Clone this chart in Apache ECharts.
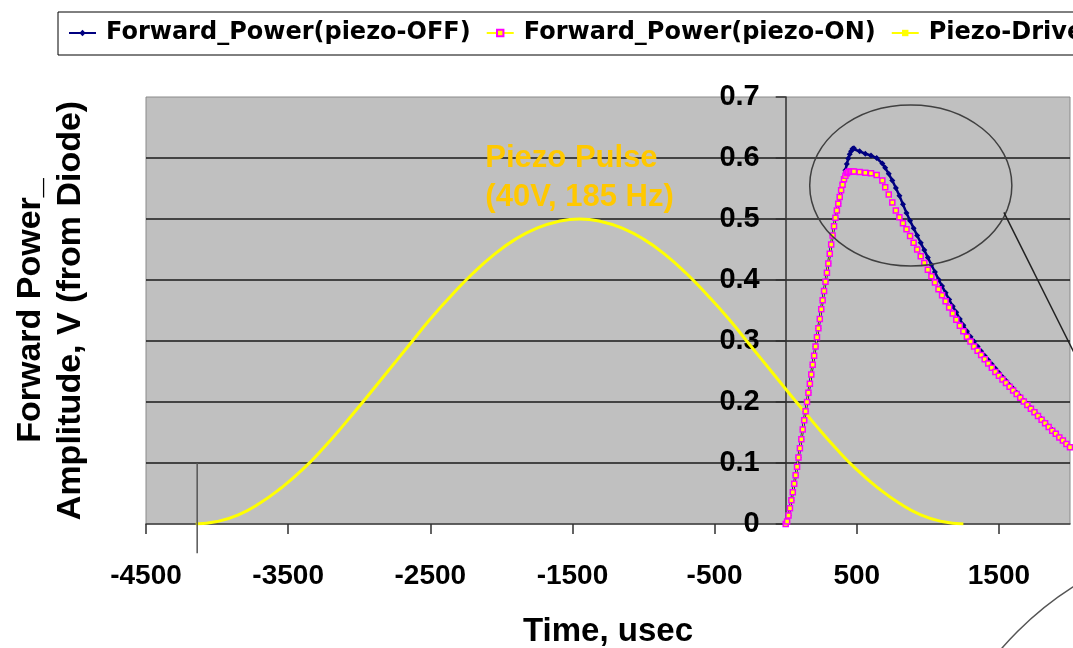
<!DOCTYPE html>
<html>
<head>
<meta charset="utf-8">
<script src="https://cdn.jsdelivr.net/npm/echarts@6/dist/echarts.min.js"></script>
<style>
  html, body { margin: 0; padding: 0; background: #ffffff; }
  #chart { width: 1073px; height: 648px; }
</style>
</head>
<body>
<div id="chart"></div>
<script>
// Sample times (usec) for the diode forward-power traces
const tFwd = [
  0, 10, 20, 30, 40, 50, 60, 70, 80, 90, 100, 110, 120, 130, 140, 150, 160, 170, 180, 190,
  200, 210, 220, 230, 240, 250, 260, 270, 280, 290, 300, 310, 320, 330, 340, 350, 360, 370, 380, 390,
  400, 410, 420, 430, 440, 450, 460, 470,
  480, 520, 560, 600, 640, 680,
  700, 725, 750, 775, 800, 825, 850, 875, 900, 925, 950, 975, 1000, 1025, 1050, 1075, 1100, 1125,
  1150, 1175, 1200, 1225, 1250, 1275, 1300, 1325, 1350, 1375, 1400, 1425, 1450, 1475, 1500, 1525,
  1550, 1575, 1600, 1625, 1650, 1675, 1700, 1725, 1750, 1775, 1800, 1825, 1850, 1875, 1900, 1925,
  1950, 1975, 2000
];

// Forward power, piezo off (V)
const fwdOff = [
  0.000, 0.004, 0.014, 0.026, 0.039, 0.052, 0.066, 0.080, 0.094, 0.109, 0.124, 0.139, 0.155, 0.170, 0.185, 0.200, 0.215, 0.230, 0.245, 0.261,
  0.276, 0.291, 0.306, 0.321, 0.336, 0.352, 0.367, 0.382, 0.397, 0.412, 0.427, 0.443, 0.458, 0.473, 0.488, 0.502, 0.514, 0.525, 0.536, 0.547,
  0.558, 0.569, 0.580, 0.590, 0.599, 0.606, 0.611, 0.615,
  0.616, 0.611, 0.607, 0.604, 0.600, 0.591,
  0.584, 0.574, 0.563, 0.551, 0.538, 0.524, 0.510, 0.497, 0.485, 0.473, 0.461, 0.449, 0.437, 0.425, 0.413, 0.401, 0.390, 0.379,
  0.368, 0.357, 0.347, 0.336, 0.326, 0.316, 0.307, 0.299, 0.291, 0.283, 0.276, 0.269, 0.262, 0.255, 0.248, 0.241,
  0.235, 0.228, 0.222, 0.215, 0.209, 0.202, 0.196, 0.190, 0.184, 0.178, 0.172, 0.166, 0.160, 0.154, 0.148, 0.142,
  0.137, 0.131, 0.126
];

// Forward power, piezo on (V)
const fwdOn = [
  0.000, 0.004, 0.014, 0.026, 0.039, 0.052, 0.066, 0.080, 0.094, 0.109, 0.124, 0.139, 0.155, 0.170, 0.185, 0.200, 0.215, 0.230, 0.245, 0.261,
  0.276, 0.291, 0.306, 0.321, 0.336, 0.352, 0.367, 0.382, 0.397, 0.412, 0.427, 0.443, 0.458, 0.473, 0.488, 0.502, 0.514, 0.525, 0.536, 0.547,
  0.556, 0.565, 0.571, 0.575, 0.577, 0.578, 0.578, 0.578,
  0.578, 0.577, 0.576, 0.575, 0.572, 0.563,
  0.552, 0.540, 0.527, 0.514, 0.503, 0.493, 0.483, 0.472, 0.461, 0.450, 0.439, 0.428, 0.417, 0.406, 0.396, 0.385, 0.375, 0.365,
  0.355, 0.345, 0.335, 0.325, 0.316, 0.307, 0.299, 0.291, 0.284, 0.277, 0.270, 0.263, 0.256, 0.249, 0.243, 0.237,
  0.231, 0.225, 0.219, 0.213, 0.207, 0.201, 0.195, 0.189, 0.183, 0.177, 0.171, 0.165, 0.159, 0.153, 0.148, 0.142,
  0.137, 0.131, 0.126
];

// Piezo drive pulse (scaled), sample times and levels
const tDrive = [
  -4150, -4000, -3850, -3700, -3550, -3400, -3250, -3100, -2950, -2800, -2650, -2500, -2350,
  -2200, -2050, -1900, -1750, -1600, -1450, -1300, -1150, -1000, -850, -700, -550, -400,
  -250, -100, 50, 200, 350, 500, 650, 800, 950, 1100, 1250
];
const drive = [
  0.000, 0.004, 0.015, 0.034, 0.059, 0.089, 0.125, 0.165, 0.207, 0.250, 0.293, 0.336, 0.375,
  0.411, 0.442, 0.467, 0.485, 0.496, 0.500, 0.496, 0.485, 0.467, 0.442, 0.411, 0.375, 0.336,
  0.293, 0.250, 0.207, 0.165, 0.125, 0.089, 0.059, 0.034, 0.015, 0.004, 0.000
];

// Axis tick labels
const xTicks = [-4500, -3500, -2500, -1500, -500, 500, 1500];
const seriesNames = ['Forward_Power(piezo-OFF)', 'Forward_Power(piezo-ON)', 'Piezo-Drive'];

const zip = (xs, ys) => xs.map((x, i) => [x, ys[i]]);

const AX_FONT = "'Liberation Sans', Arial, sans-serif";
const X_MIN = -4500, X_MAX = 2000;
const GRID_LEFT = 146, GRID_RIGHT = 3;
const PLOT_W = 1073 - GRID_LEFT - GRID_RIGHT;
// shift the value axis so that it crosses the time axis at t = 0
const Y_AXIS_SHIFT = -PLOT_W * (0 - X_MIN) / (X_MAX - X_MIN);

const chart = echarts.init(document.getElementById('chart'), null, { renderer: 'canvas' });

chart.setOption({
  animation: false,
  backgroundColor: '#ffffff',
  legend: {
    data: seriesNames,
    left: 58,
    top: 12,
    width: 1060,
    padding: [9, 12, 10, 10],
    itemWidth: 27,
    itemHeight: 8,
    itemGap: 15,
    borderColor: '#000000',
    borderWidth: 1,
    textStyle: {
      fontFamily: "'DejaVu Sans', sans-serif",
      fontWeight: 'bold',
      fontSize: 24,
      color: '#000000',
      padding: [0, 0, 0, 5]
    }
  },
  grid: {
    left: GRID_LEFT,
    right: GRID_RIGHT,
    top: 97,
    bottom: 124,
    containLabel: false,
    outerBoundsMode: 'none',
    show: true,
    backgroundColor: '#C0C0C0',
    borderColor: '#8a8a8a',
    borderWidth: 1
  },
  xAxis: {
    type: 'value',
    min: X_MIN,
    max: X_MAX,
    name: 'Time, usec',
    nameLocation: 'middle',
    nameGap: 91,
    nameTextStyle: { fontFamily: AX_FONT, fontWeight: 'bold', fontSize: 33, color: '#000' },
    axisLine: { show: true, lineStyle: { color: '#404040', width: 1.5 } },
    axisTick: { show: true, length: 10, customValues: xTicks, lineStyle: { color: '#303030', width: 1.5 } },
    axisLabel: {
      customValues: xTicks,
      showMinLabel: true,
      hideOverlap: false,
      formatter: (v) => String(v),
      fontFamily: AX_FONT, fontWeight: 'bold', fontSize: 28, color: '#000', margin: 38
    },
    splitLine: { show: false }
  },
  yAxis: {
    type: 'value',
    min: 0,
    max: 0.7,
    interval: 0.1,
    position: 'left',
    offset: Y_AXIS_SHIFT,
    name: 'Forward Power_\nAmplitude, V (from Diode)',
    nameLocation: 'middle',
    nameRotate: 90,
    nameGap: 695,
    nameTextStyle: { fontFamily: AX_FONT, fontWeight: 'bold', fontSize: 34, color: '#000', lineHeight: 40 },
    axisLine: { show: true, onZero: false, lineStyle: { color: '#303030', width: 1.5 } },
    axisTick: { show: true, length: 10, lineStyle: { color: '#303030', width: 1.5 } },
    axisLabel: { fontFamily: AX_FONT, fontWeight: 'bold', fontSize: 29, color: '#000', margin: 26 },
    splitLine: { show: true, showMinLine: false, showMaxLine: false, lineStyle: { color: '#1a1a1a', width: 1.5 } }
  },
  series: [
    {
      name: seriesNames[2],
      type: 'line',
      z: 2,
      data: zip(tDrive, drive),
      smooth: true,
      symbol: 'rect',
      symbolSize: 4,
      showSymbol: false,
      lineStyle: { color: '#FFFF00', width: 3 },
      itemStyle: { color: '#FFFF00' }
    },
    {
      name: seriesNames[0],
      type: 'line',
      z: 3,
      data: zip(tFwd, fwdOff),
      symbol: 'diamond',
      symbolSize: 6,
      lineStyle: { color: '#000080', width: 2.5 },
      itemStyle: { color: '#000080' }
    },
    {
      name: seriesNames[1],
      type: 'line',
      z: 4,
      data: zip(tFwd, fwdOn),
      symbol: 'rect',
      symbolSize: 5,
      lineStyle: { color: '#FFFF00', width: 1 },
      itemStyle: { color: '#FFFF00', borderColor: '#FF00FF', borderWidth: 1.5 }
    }
  ]
});

// Annotations placed in data coordinates
const px = (t, v) => chart.convertToPixel({ gridIndex: 0 }, [t, v]);
const ellC = px(880, 0.555);
const ellE = px(880 + 711, 0.555 - 0.132);
const connA = px(1535, 0.511);
const connB = px(2150, 0.224);
const startTop = px(-4140, 0.1);
const startBot = px(-4140, -0.048);
const txt1 = px(-2113, 0.6);
const txt2 = px(-2113, 0.535);

chart.setOption({
  graphic: [
    {
      type: 'ellipse',
      shape: { cx: ellC[0], cy: ellC[1], rx: ellE[0] - ellC[0], ry: ellE[1] - ellC[1] },
      style: { fill: 'none', stroke: '#404040', lineWidth: 1.5 },
      z: 10
    },
    {
      type: 'line',
      shape: { x1: connA[0], y1: connA[1], x2: connB[0], y2: connB[1] },
      style: { stroke: '#202020', lineWidth: 1.5 },
      z: 10
    },
    {
      type: 'line',
      shape: { x1: startTop[0], y1: startTop[1], x2: startBot[0], y2: startBot[1] },
      style: { stroke: '#555555', lineWidth: 1.5 },
      z: 10
    },
    {
      type: 'circle',
      shape: { cx: 1248, cy: 862, r: 326 },
      style: { fill: 'none', stroke: '#555555', lineWidth: 1.5 },
      z: 10
    },
    {
      type: 'text',
      style: {
        x: txt1[0], y: txt1[1], text: 'Piezo Pulse',
        fill: '#FFC800', font: "bold 31px 'Liberation Sans', Arial, sans-serif",
        textAlign: 'left', textVerticalAlign: 'middle'
      },
      z: 10
    },
    {
      type: 'text',
      style: {
        x: txt2[0], y: txt2[1], text: '(40V, 185 Hz)',
        fill: '#FFC800', font: "bold 31px 'Liberation Sans', Arial, sans-serif",
        textAlign: 'left', textVerticalAlign: 'middle'
      },
      z: 10
    }
  ]
});
</script>
</body>
</html>
